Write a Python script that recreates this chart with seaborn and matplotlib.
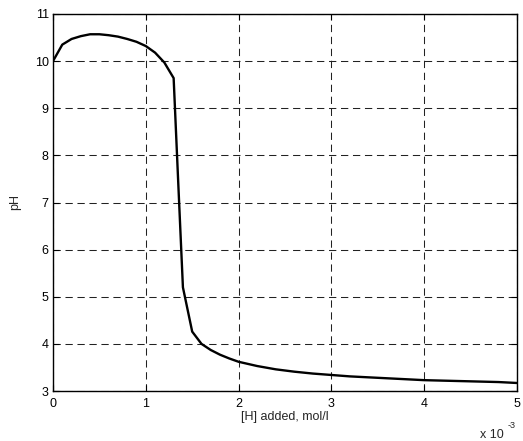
import matplotlib
matplotlib.use("Agg")
import matplotlib.pyplot as plt
import seaborn as sns
import pandas as pd

# [H] added in units of 1e-3 mol/l
h_added = [0.0, 0.1, 0.2, 0.3, 0.4, 0.5, 0.6, 0.7, 0.8, 0.9, 1.0, 1.1, 1.2, 1.3,
           1.35, 1.4, 1.5, 1.6, 1.7, 1.8, 1.9, 2.0, 2.2, 2.4, 2.6, 2.8, 3.0,
           3.2, 3.4, 3.6, 3.8, 4.0, 4.2, 4.4, 4.6, 4.8, 5.0]
ph = [10.0, 10.35, 10.47, 10.53, 10.57, 10.57, 10.55, 10.52, 10.47, 10.41, 10.32, 10.18, 9.97, 9.64,
      7.4, 5.2, 4.26, 4.0, 3.87, 3.77, 3.69, 3.62, 3.53, 3.46, 3.41, 3.37, 3.34,
      3.31, 3.29, 3.27, 3.25, 3.23, 3.22, 3.21, 3.20, 3.19, 3.17]

df = pd.DataFrame({"h": h_added, "ph": ph})

sns.set_style("white")
plt.rcParams['font.family'] = ['Liberation Sans', 'DejaVu Sans']

fig = plt.figure(figsize=(5.23, 4.41), dpi=100)
ax = fig.add_axes([53/523, 50/441, 464/523, 377/441])

sns.lineplot(data=df, x="h", y="ph", ax=ax, color="black", linewidth=1.7, sort=False)

ax.set_xlim(0, 5)
ax.set_ylim(3, 11)
ax.set_xticks([0, 1, 2, 3, 4, 5])
ax.set_yticks(range(3, 12))
ax.grid(True, color="#222222", linestyle=(0, (7, 4.5)), linewidth=0.75)
for s in ax.spines.values():
    s.set_color("black")
    s.set_linewidth(1.0)
ax.tick_params(direction="in", length=4, labelsize=9, colors="black",
               top=True, right=True, bottom=True, left=True)
ax.tick_params(axis="x", pad=5)
ax.tick_params(axis="y", pad=3)
ax.set_xlabel("[H] added, mol/l", fontsize=9, labelpad=1)
ax.set_ylabel("pH", fontsize=9, labelpad=10)
fig.text(480/523, 1 - 438/441, "x 10", fontsize=9, ha="left", va="baseline")
fig.text(508/523, 1 - 428/441, "-3", fontsize=6.5, ha="left", va="baseline")

fig.savefig("out.png", dpi=100)
